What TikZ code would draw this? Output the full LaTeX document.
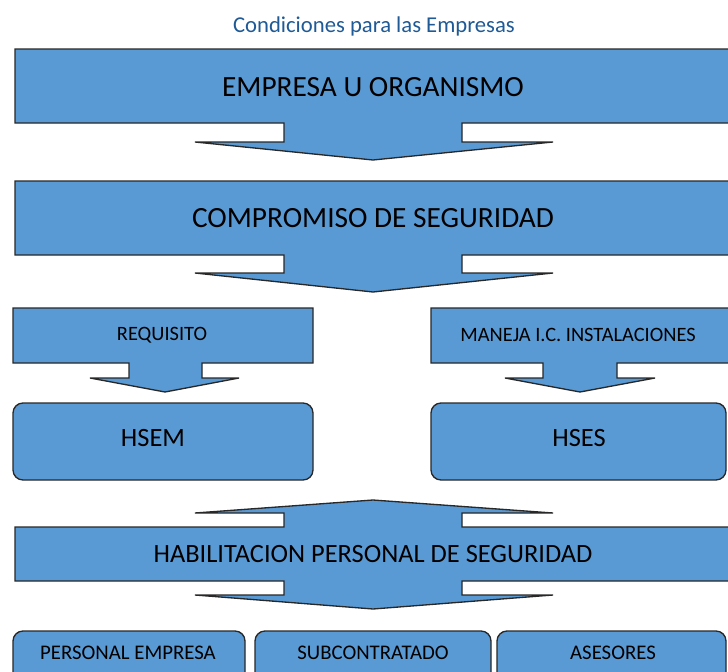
\documentclass[tikz,border=0pt]{standalone}
\usepackage{fontspec}
\setmainfont{Carlito}
\usepackage{tikz}
\definecolor{blockblue}{RGB}{90,154,212}
\definecolor{titleblue}{RGB}{31,90,150}
\definecolor{edgegray}{RGB}{40,40,40}

\begin{document}
\begin{tikzpicture}[x=0.75pt,y=0.75pt,yscale=-1,xscale=1,
  blockshape/.style={fill=blockblue,draw=edgegray,line width=1pt,line join=miter},
  roundshape/.style={fill=blockblue,draw=edgegray,line width=1pt,rounded corners=7.5pt},
  hugetext/.style={inner sep=0.75pt,font=\fontsize{22}{25}\selectfont},
  bigtext/.style={inner sep=0.75pt,font=\fontsize{19.8}{23}\selectfont},
  midtext/.style={inner sep=0.75pt,font=\fontsize{15.3}{18}\selectfont},
  smalltext/.style={inner sep=0.75pt,font=\fontsize{15.6}{18}\selectfont}]
\useasboundingbox (0,0) rectangle (728,671);
% Text Node
\node [inner sep=0.75pt,text=titleblue,font=\fontsize{17}{20}\selectfont] (titulo) at (374,26) {Condiciones para las Empresas};
%Shape: Box with arrow [id:empresa] 
\draw [blockshape] (15,49) -- (735,49) -- (735,123) -- (462,123) -- (462,142) -- (553,142) -- (373,160) -- (195,142) -- (284,142) -- (284,123) -- (15,123) -- cycle ;
%Shape: Box with arrow [id:compromiso] 
\draw [blockshape] (15,181) -- (735,181) -- (735,255) -- (462,255) -- (462,273) -- (553,273) -- (373,292) -- (195,273) -- (284,273) -- (284,255) -- (15,255) -- cycle ;
%Shape: Box with arrow [id:requisito] 
\draw [blockshape] (13,308) -- (313,308) -- (313,363) -- (202,363) -- (202,378) -- (239,378) -- (165,392) -- (90,378) -- (129,378) -- (129,363) -- (13,363) -- cycle ;
%Shape: Box with arrow [id:maneja] 
\draw [blockshape] (431,308) -- (735,308) -- (735,363) -- (617,363) -- (617,378) -- (655,378) -- (580,392) -- (505,378) -- (543,378) -- (543,363) -- (431,363) -- cycle ;
%Shape: Rounded Rect [id:hsem] 
\draw [roundshape] (13,403) rectangle (313,480) ;
%Shape: Rounded Rect [id:hses] 
\draw [roundshape] (431,403) rectangle (726,480) ;
%Shape: Double arrow [id:habilitacion] 
\draw [blockshape] (15,527) -- (284,527) -- (284,513) -- (195,513) -- (373,500) -- (553,513) -- (462,513) -- (462,527) -- (735,527) -- (735,581) -- (462,581) -- (462,595) -- (553,595) -- (373,609) -- (195,595) -- (284,595) -- (284,581) -- (15,581) -- cycle ;
%Shape: Rounded Rect [id:personal] 
\draw [roundshape] (13,631) rectangle (245,690) ;
%Shape: Rounded Rect [id:subcontratado] 
\draw [roundshape] (255,631) rectangle (491,690) ;
%Shape: Rounded Rect [id:asesores] 
\draw [roundshape] (497,631) rectangle (726,690) ;

% Text Node
\node [hugetext] (empresa) at (373,87) {EMPRESA U ORGANISMO};
% Text Node
\node [hugetext] (compromiso) at (373,218) {COMPROMISO DE SEGURIDAD};
% Text Node
\node [midtext] (requisito) at (162,335) {REQUISITO};
% Text Node
\node [midtext] (maneja) at (578,335) {MANEJA I.C. INSTALACIONES};
% Text Node
\node [bigtext] (hsem) at (153,438) {HSEM};
% Text Node
\node [bigtext] (hses) at (579,438) {HSES};
% Text Node
\node [bigtext] (habilitacion) at (373,554) {HABILITACION PERSONAL DE SEGURIDAD};
% Text Node
\node [smalltext] (personal) at (128,653) {PERSONAL EMPRESA};
% Text Node
\node [smalltext] (subcontratado) at (373,653) {SUBCONTRATADO};
% Text Node
\node [smalltext] (asesores) at (613,653) {ASESORES};
\end{tikzpicture}
\end{document}
